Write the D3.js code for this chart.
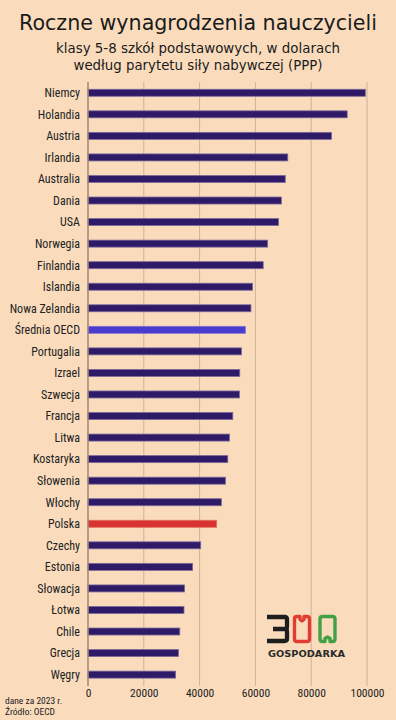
<!DOCTYPE html>
<html>
<head>
<meta charset="utf-8">
<script src="https://cdn.jsdelivr.net/npm/d3@7"></script>
<style>
  body { margin: 0; background: #fadcbd; }
  svg { display: block; }
  .lbl { font-family: 'Liberation Sans Narrow', 'Roboto Condensed', Roboto, sans-serif; }
</style>
</head>
<body>
<svg width="396" height="720"></svg>
<script>
var svg = d3.select('svg');

//countries, top to bottom
var countries = ['Niemcy', 'Holandia', 'Austria', 'Irlandia', 'Australia', 'Dania', 'USA', 'Norwegia',
    'Finlandia', 'Islandia', 'Nowa Zelandia', 'Średnia OECD', 'Portugalia', 'Izrael', 'Szwecja', 'Francja',
    'Litwa', 'Kostaryka', 'Słowenia', 'Włochy', 'Polska', 'Czechy', 'Estonia', 'Słowacja', 'Łotwa',
    'Chile', 'Grecja', 'Węgry'];

//annual salary, USD PPP
var salaries = [99400, 92900, 87300, 71600, 70700, 69300, 68300, 64400,
    62800, 59000, 58400, 56400, 55000, 54400, 54300, 51900,
    50700, 50100, 49300, 47800, 46100, 40400, 37500, 34600, 34400,
    32900, 32400, 31400];

var ticks = [0, 20000, 40000, 60000, 80000, 100000];

var data = countries.map(function(c, i){
    return {name: c, value: salaries[i]};
});

//background
svg.append('rect')
    .attr('width', 396)
    .attr('height', 720)
    .attr('fill', '#fadcbd');

//title + subtitle
svg.append('text')
    .attr('x', 198)
    .attr('y', 30)
    .attr('text-anchor', 'middle')
    .attr('font-family', 'DejaVu Sans, sans-serif')
    .attr('font-size', 21)
    .attr('fill', '#1b1b1b')
    .attr('textLength', 358)
    .attr('lengthAdjust', 'spacingAndGlyphs')
    .text('Roczne wynagrodzenia nauczycieli');

svg.append('text')
    .attr('x', 198)
    .attr('y', 53)
    .attr('text-anchor', 'middle')
    .attr('font-family', 'DejaVu Sans, sans-serif')
    .attr('font-size', 13.5)
    .attr('fill', '#1b1b1b')
    .attr('textLength', 284)
    .attr('lengthAdjust', 'spacingAndGlyphs')
    .text('klasy 5-8 szkół podstawowych, w dolarach');

svg.append('text')
    .attr('x', 198)
    .attr('y', 70)
    .attr('text-anchor', 'middle')
    .attr('font-family', 'DejaVu Sans, sans-serif')
    .attr('font-size', 13.5)
    .attr('fill', '#1b1b1b')
    .attr('textLength', 249)
    .attr('lengthAdjust', 'spacingAndGlyphs')
    .text('według parytetu siły nabywczej (PPP)');

//scales
var x = d3.scaleLinear()
    .domain([0, 100000])
    .range([88, 367]);

var y = d3.scalePoint()
    .domain(countries)
    .range([82, 685.4])
    .padding(0.5);

//gridlines
svg.selectAll('.grid')
    .data(ticks.slice(1))
    .enter()
    .append('line')
    .attr('class', 'grid')
    .attr('x1', function(d){ return x(d); })
    .attr('x2', function(d){ return x(d); })
    .attr('y1', 82)
    .attr('y2', 686)
    .attr('stroke', '#cdb29a')
    .attr('stroke-width', 1);

//x axis labels
var xAxis = d3.axisBottom(x)
    .tickValues(ticks)
    .tickFormat(d3.format('d'))
    .tickSize(0)
    .tickPadding(0);

var gx = svg.append('g')
    .attr('transform', 'translate(0,689)')
    .call(xAxis);
gx.select('.domain').remove();
gx.selectAll('text')
    .attr('class', 'lbl')
    .attr('font-size', 11.5)
    .attr('fill', '#222');

//y labels
var yAxis = d3.axisLeft(y)
    .tickSize(0)
    .tickPadding(8);

var gy = svg.append('g')
    .attr('transform', 'translate(88,0)')
    .call(yAxis);
gy.select('.domain').remove();
gy.selectAll('text')
    .attr('class', 'lbl')
    .attr('font-size', 12)
    .attr('fill', '#222');

//bars
svg.selectAll('.bar')
    .data(data)
    .enter()
    .append('rect')
    .attr('class', 'bar')
    .attr('x', x(0))
    .attr('y', function(d){ return y(d.name) - 3.5; })
    .attr('width', function(d){ return x(d.value) - x(0); })
    .attr('height', 7)
    .attr('fill', function(d){
        if(d.name == 'Polska') return '#d83232';
        if(d.name == 'Średnia OECD') return '#4a3bcc';
        return '#2e1a66';
    })
    .attr('stroke', function(d){
        if(d.name == 'Polska') return '#e56a5a';
        if(d.name == 'Średnia OECD') return '#7d70dd';
        return '#7a6a9c';
    })
    .attr('stroke-width', 0.8);

//vertical axis line
svg.append('line')
    .attr('x1', 88)
    .attr('x2', 88)
    .attr('y1', 82)
    .attr('y2', 686)
    .attr('stroke', '#9c8776')
    .attr('stroke-width', 1.5);

//logo: "3" and two "0" drawn as strokes
var logo = svg.append('g')
    .attr('fill', 'none')
    .attr('stroke-linejoin', 'round');
logo.append('path')
    .attr('d', 'M267,617 L284.5,617 Q287,617 287,619.5 L287,626.5 Q287,629 284.5,629 L273,629 M284.5,629 Q287,629 287,631.5 L287,638.5 Q287,641 284.5,641 L267,641')
    .attr('stroke', '#1e1e1e')
    .attr('stroke-width', 4.3);
logo.append('path')
    .attr('d', 'M300,616.5 L297,616.5 Q294.5,616.5 294.5,619 L294.5,639 Q294.5,641.5 297,641.5 L307,641.5 Q309.5,641.5 309.5,639 L309.5,619 Q309.5,616.5 307,616.5 L304,616.5 L304,619.5 L302,621 L300,619.5 Z')
    .attr('stroke', '#e03c31')
    .attr('stroke-width', 3.4);
logo.append('path')
    .attr('d', 'M325,641.5 L322.5,641.5 Q320,641.5 320,639 L320,619 Q320,616.5 322.5,616.5 L332.5,616.5 Q335,616.5 335,619 L335,639 Q335,641.5 332.5,641.5 L330,641.5 L330,638.5 L327.5,637 L325,638.5 Z')
    .attr('stroke', '#43a047')
    .attr('stroke-width', 3.4);
svg.append('text')
    .attr('x', 268)
    .attr('y', 656.5)
    .attr('font-family', 'DejaVu Sans, sans-serif')
    .attr('font-weight', 'bold')
    .attr('font-size', 9.5)
    .attr('fill', '#2a2a2a')
    .attr('textLength', 77)
    .attr('lengthAdjust', 'spacingAndGlyphs')
    .text('GOSPODARKA');

//footnote
svg.append('text')
    .attr('class', 'lbl')
    .attr('x', 5)
    .attr('y', 704)
    .attr('font-size', 9.5)
    .attr('fill', '#222')
    .text('dane za 2023 r.');
svg.append('text')
    .attr('class', 'lbl')
    .attr('x', 5)
    .attr('y', 715)
    .attr('font-size', 9.5)
    .attr('fill', '#222')
    .text('Źródło: OECD');
</script>
</body>
</html>
